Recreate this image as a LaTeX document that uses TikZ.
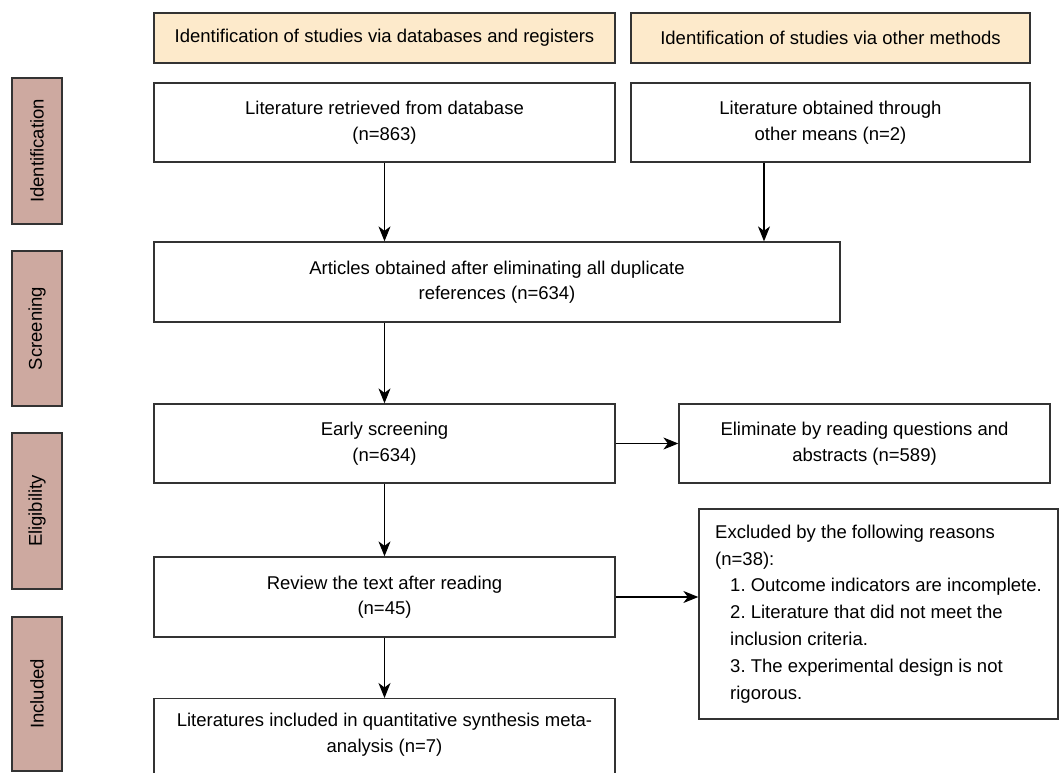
\documentclass[tikz,border=0pt]{standalone}
\usepackage{fontspec}
\setmainfont{Liberation Sans}
\usetikzlibrary{arrows.meta}
\definecolor{hdr}{HTML}{FDEACB}
\definecolor{sidec}{HTML}{CDA9A0}
\definecolor{edgec}{HTML}{333333}
\frenchspacing
\begin{document}
\begin{tikzpicture}[x=1pt,y=-1pt,
  box/.style={draw=edgec, line width=1.3pt, fill=white, align=center, inner sep=0pt,
    font=\fontsize{18.5}{25.5}\selectfont},
  hdrbox/.style={box, fill=hdr},
  sidebox/.style={draw=edgec, line width=1.3pt, fill=sidec, rotate=90, minimum height=50pt,
    inner sep=0pt, font=\fontsize{18.5}{22}\selectfont},
  txt/.style={align=center, inner sep=0pt, font=\fontsize{18.5}{25.5}\selectfont},
  arr/.style={draw=black, line width=1.1pt, -{Stealth[length=15pt,width=12pt,inset=4.5pt]}}]
\useasboundingbox (0,0) rectangle (1061,773);
\clip (0,0) rectangle (1061,773);
\fill[white] (0,0) rectangle (1061,773);

% headers
\node[hdrbox, minimum width=461pt, minimum height=50pt] (h1) at (384.5,38) {Identification of studies via databases and registers};
\node[hdrbox, minimum width=399pt, minimum height=50pt] (h2) at (830.5,38) {Identification of studies via other methods};

% side labels
\node[sidebox, minimum width=146pt] (s1) at (37,151) {Identification};
\node[sidebox, minimum width=155pt] (s2) at (37,328.5) {Screening};
\node[sidebox, minimum width=156pt] (s3) at (37,511) {Eligibility};
\node[sidebox, minimum width=154pt] (s4) at (37,694) {Included};

% main boxes
\node[box, minimum width=461pt, minimum height=79pt] (n1) at (384.5,122.5) {Literature retrieved from database\\(n=863)};
\node[box, minimum width=399pt, minimum height=79pt] (n2) at (830.5,122.5) {Literature obtained through\\other means (n=2)};
\node[box, minimum width=686pt, minimum height=80pt] (scr) at (497,282) {Articles obtained after eliminating all duplicate\\references (n=634)};
\node[box, minimum width=461pt, minimum height=79pt] (early) at (384.5,443.5) {Early screening\\(n=634)};
\node[box, minimum width=371pt, minimum height=79pt] (elim) at (864.5,443.5) {Eliminate by reading questions and\\abstracts (n=589)};
\node[box, minimum width=461pt, minimum height=80pt] (rev) at (384.5,597) {Review the text after reading\\(n=45)};
\node[box, align=left, minimum width=359pt, minimum height=210pt,
  font=\fontsize{18.5}{26.8}\selectfont] (ex) at (878.5,614)
  {Excluded by the following reasons\\(n=38):\\
   \hspace*{15pt}1. Outcome indicators are incomplete.\\
   \hspace*{15pt}2. Literature that did not meet the\\
   \hspace*{15pt}inclusion criteria.\\
   \hspace*{15pt}3. The experimental design is not\\
   \hspace*{15pt}rigorous.};
\node[box, minimum width=461pt, minimum height=95pt, anchor=north] (inc) at (384.5,698) {};
\node[txt] (inct) at (384.5,734.5) {Literatures included in quantitative synthesis meta-\\analysis (n=7)};

% connectors
\coordinate (rx) at (764,0);
\draw[arr] (n1.south) -- (n1.south |- scr.north);
\draw[arr] (rx |- n2.south) -- (rx |- scr.north);
\draw[arr] (scr.south -| early.north) -- (early.north);
\draw[arr] (early.east) -- (elim.west);
\draw[arr] (early.south) -- (rev.north);
\draw[arr] (rev.east) -- (ex.west |- rev.east);
\draw[arr] (rev.south) -- (inc.north);
\end{tikzpicture}
\end{document}
